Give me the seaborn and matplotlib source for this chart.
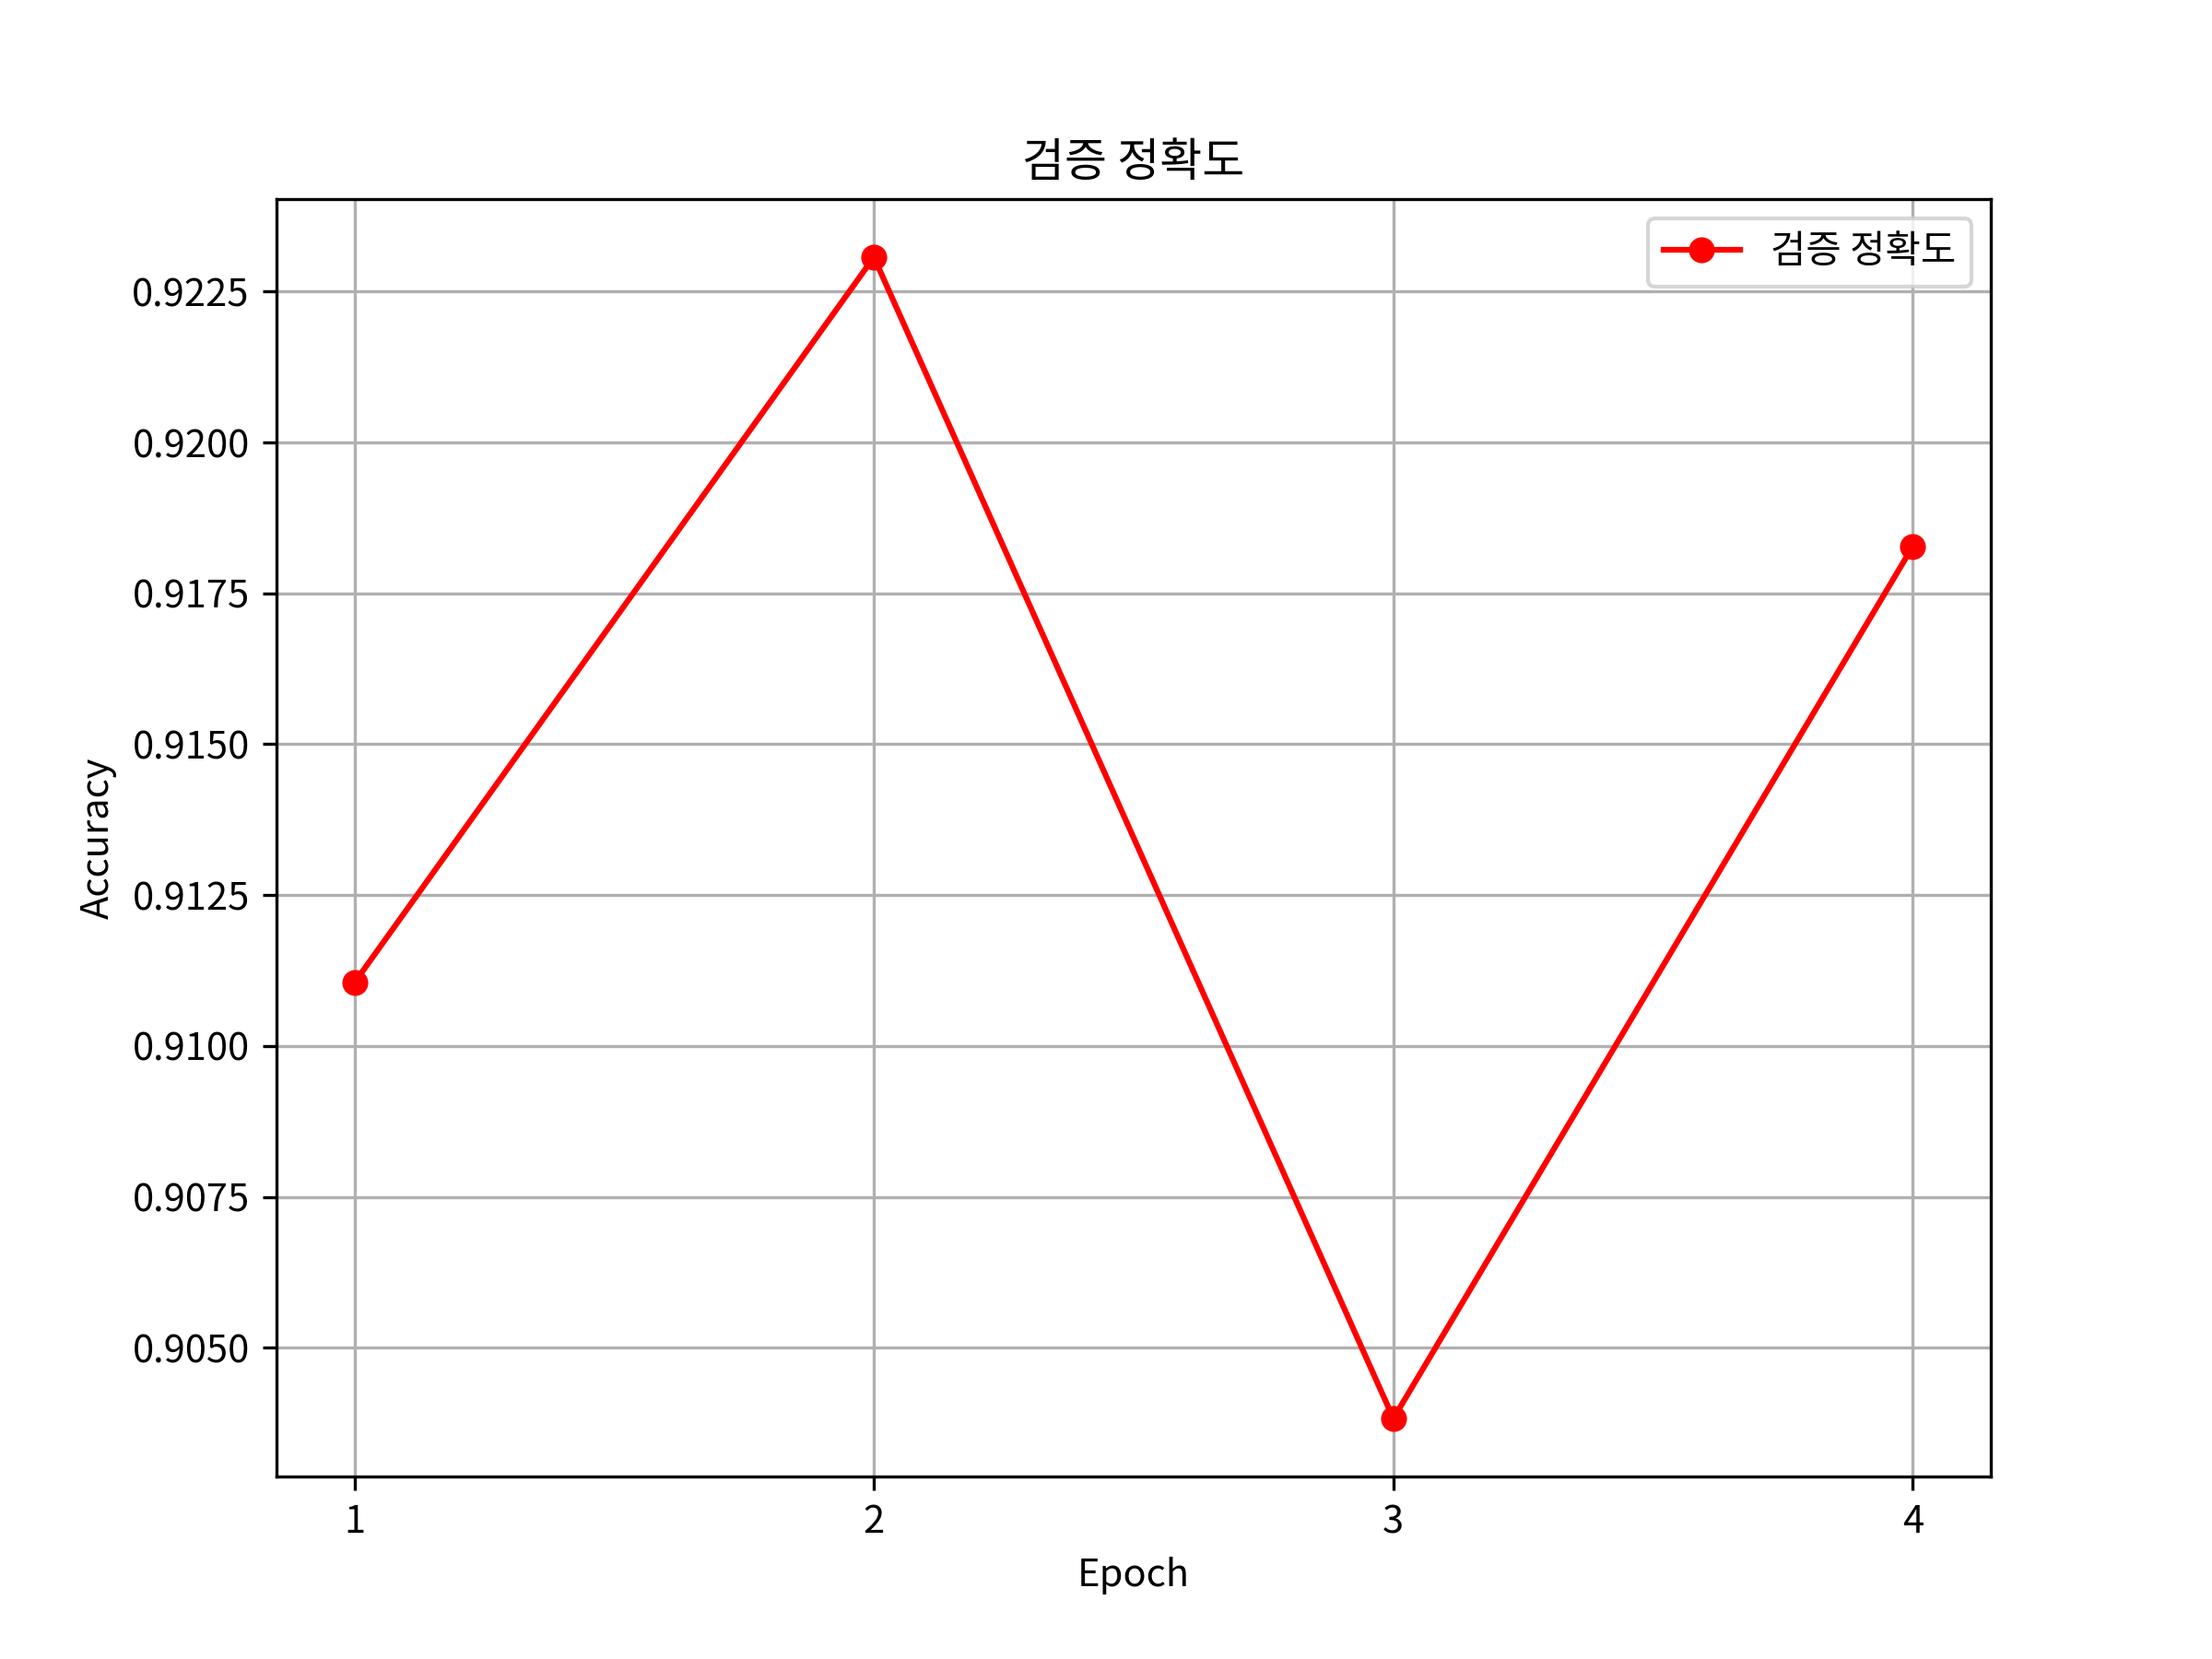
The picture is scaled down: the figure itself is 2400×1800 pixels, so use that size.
import matplotlib
matplotlib.use('Agg')
import pandas as pd
import seaborn as sns
from matplotlib import pyplot

pyplot.rcParams['font.family'] = ['Noto Sans CJK KR', 'DejaVu Sans']
pyplot.rcParams['axes.unicode_minus'] = False

epochs = [1, 2, 3, 4]
val_acc = [0.91105, 0.92307, 0.90383, 0.91828]
label = '검증 정확도'

df = pd.DataFrame({'Epoch': epochs, 'Accuracy': val_acc})

fig, ax = pyplot.subplots(figsize=(8, 6), dpi=300)
sns.lineplot(data=df, x='Epoch', y='Accuracy', marker='o', color='red',
             markeredgecolor='red', markersize=6, label=label, ax=ax)

ax.set_xticks(epochs)
ax.set_title(label)
ax.set_xlabel('Epoch')
ax.set_ylabel('Accuracy')
ax.grid(True)
ax.legend(loc='upper right')

fig.savefig('out.png')
